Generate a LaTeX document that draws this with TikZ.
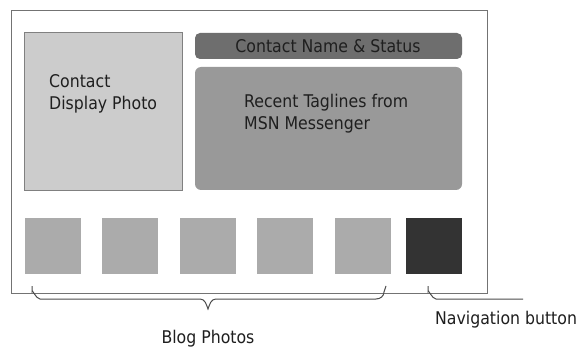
\documentclass[tikz,border=0pt]{standalone}
\usepackage{fontspec}
\setmainfont{DejaVu Sans Condensed}
\begin{document}
\begin{tikzpicture}[x=1pt,y=-1pt,
  box/.style={rectangle, inner sep=0pt, outer sep=0pt},
  lbl/.style={inner sep=0pt, font=\fontsize{17.5}{22}\selectfont, text=black!88, align=left},
  thumb/.style={box, fill=black!33, minimum width=56pt, minimum height=56pt},
  bracket/.style={draw=black!70, line width=1pt}]
\useasboundingbox (0,0) rectangle (583,347);
\fill[white] (0,0) rectangle (583,347);
% frame
\node[box, draw=black!55, line width=0.8pt, minimum width=475.5pt, minimum height=282.5pt] (frame) at (249.25,151.75) {};
% boxes
\node[box, fill=black!20, draw=black!50, line width=0.8pt, minimum width=158pt, minimum height=158pt] (photo) at (103,111) {};
\node[box, fill=black!57, rounded corners=5pt, minimum width=267pt, minimum height=26pt] (name) at (328.5,46) {};
\node[box, fill=black!40, rounded corners=6pt, minimum width=267pt, minimum height=123pt] (tag) at (328.5,128.5) {};
% thumbnails
\foreach \x [count=\i] in {25,102,180,257,335}{
  \node[thumb] (blog\i) at (\x+28,246) {};
}
\node[thumb, fill=black!80] (nav) at (434,246) {};
% texts
\node[lbl, anchor=base west] (tphoto) at (49,110) {Contact\\Display Photo};
\node[lbl, anchor=base] (tname) at (328,53) {Contact Name \& Status};
\node[lbl, anchor=base west] (ttag) at (244,130) {Recent Taglines from\\MSN Messenger};
\node[lbl, anchor=base] (tblog) at (208,343) {Blog Photos};
\node[lbl, anchor=base west] (tnav) at (435,324) {Navigation button};
% brace
\coordinate (bl) at (32,286);
\coordinate (br) at (386,286);
\coordinate (bt) at (208,309);
\coordinate (nl) at (428,286);
\coordinate (ne) at (523,299);
\draw[bracket] (bl) -- ++(0,6) to[out=90,in=180] ++(8,7) -- ++(160,0)
  to[out=0,in=110] (bt) to[out=70,in=180] ++(8,-10) -- ++(160,0)
  to[out=0,in=-90] ++(8,-7) -- (br);
\draw[bracket] (nl) -- ++(0,6) to[out=90,in=180] ++(8,7) -- (ne);
\end{tikzpicture}
\end{document}
